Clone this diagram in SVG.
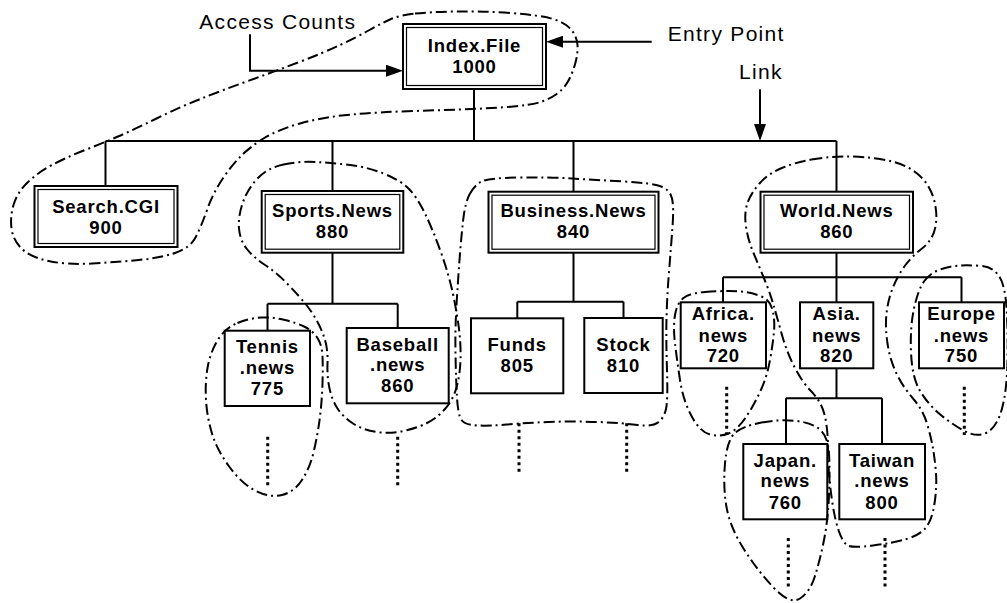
<svg xmlns="http://www.w3.org/2000/svg" width="1007" height="603" viewBox="0 0 1007 603">
<style>
.bg{fill:#fff}
.box{fill:#fff;stroke:#000;stroke-width:2}
.inner{fill:none;stroke:#000;stroke-width:1.2}
.wire{fill:none;stroke:#000;stroke-width:2}
.dots{fill:none;stroke:#000;stroke-width:3;stroke-dasharray:3 3.5}
.enc{fill:none;stroke:#000;stroke-width:2;stroke-dasharray:11 4 2 4}
.lbl{font-family:"Liberation Sans",Arial,sans-serif;font-weight:bold;font-size:18.5px;letter-spacing:0.8px;text-anchor:middle;fill:#000}
.ann{font-family:"Liberation Sans",Arial,sans-serif;font-size:21px;letter-spacing:1.3px;fill:#000}
</style>
<defs>
<marker id="ah" markerWidth="17" markerHeight="12" viewBox="0 0 17 12" refX="0" refY="6" orient="auto" markerUnits="userSpaceOnUse"><path d="M0,0 L17,6 L0,12 Z" fill="#000"/></marker>
</defs>
<rect class="bg" x="0" y="0" width="1007" height="603"/>

<g id="connectors">
<path class="wire" d="M105.5 141 H836.5 M105.5 141 V186 M332.5 141 V191 M573.5 141 V191.7 M836.5 141 V191.7 M474 89 V141"/>
<path class="wire" d="M332.5 252.7 V303.7 M267.5 303.7 H397.7 M267.5 303.7 V330.7 M397.7 303.7 V328"/>
<path class="wire" d="M573.5 252.7 V301.7 M517.3 301.7 H623.5 M517.3 301.7 V318.3 M623.5 301.7 V318"/>
<path class="wire" d="M836.5 252.7 V277.3 M723 277.3 H961.5 M723 277.3 V302.3 M836.5 277.3 V302.3 M961.5 277.3 V302.3"/>
<path class="wire" d="M836.5 368.3 V398.3 M786 398.3 H882 M786 398.3 V444 M882 398.3 V444"/>
<path class="wire" d="M250 34.3 V70.7 H386" marker-end="url(#ah)"/>
<path class="wire" d="M651.7 41.7 H563" marker-end="url(#ah)"/>
<path class="wire" d="M760 89.3 V124" marker-end="url(#ah)"/>
<path class="dots" d="M267.7 436.7 V488.3 M397.7 436.7 V488.3 M519 423.3 V473.3 M626.7 423.3 V473.3 M726.7 386.7 V435 M964.3 386.7 V435 M788.3 538 V588.3 M885 538 V588.3"/>
</g>

<g id="index-file">
<rect class="box" x="403" y="24" width="143" height="65"/>
<rect class="inner" x="406.5" y="27.5" width="136" height="58"/>
<text class="lbl" x="474.5" y="51.7">Index.File</text>
<text class="lbl" x="474.5" y="73.3">1000</text>
</g>
<g id="search-cgi">
<rect class="box" x="34.5" y="186" width="143" height="61"/>
<rect class="inner" x="38" y="189.5" width="136" height="54"/>
<text class="lbl" x="106" y="212.7">Search.CGI</text>
<text class="lbl" x="106" y="234">900</text>
</g>
<g id="sports-news">
<rect class="box" x="261.7" y="191" width="141.6" height="61.7"/>
<rect class="inner" x="265.2" y="194.5" width="134.6" height="54.7"/>
<text class="lbl" x="332.5" y="217.3">Sports.News</text>
<text class="lbl" x="332.5" y="238.3">880</text>
</g>
<g id="business-news">
<rect class="box" x="488.5" y="191.7" width="170" height="61"/>
<rect class="inner" x="492" y="195.2" width="163" height="54"/>
<text class="lbl" x="573.5" y="217.3">Business.News</text>
<text class="lbl" x="573.5" y="238.3">840</text>
</g>
<g id="world-news">
<rect class="box" x="760.5" y="191.7" width="152.5" height="61"/>
<rect class="inner" x="764" y="195.2" width="145.5" height="54"/>
<text class="lbl" x="836.8" y="217.3">World.News</text>
<text class="lbl" x="836.8" y="238.3">860</text>
</g>
<g id="tennis-news">
<rect class="box" x="224.7" y="330.7" width="85.3" height="75.3"/>
<text class="lbl" x="267.4" y="353.3">Tennis</text>
<text class="lbl" x="267.4" y="374">.news</text>
<text class="lbl" x="267.4" y="395">775</text>
</g>
<g id="baseball-news">
<rect class="box" x="346.7" y="328" width="102" height="75.3"/>
<text class="lbl" x="397.7" y="350.7">Baseball</text>
<text class="lbl" x="397.7" y="371">.news</text>
<text class="lbl" x="397.7" y="392.3">860</text>
</g>
<g id="funds">
<rect class="box" x="471" y="318.3" width="92.3" height="75"/>
<text class="lbl" x="517.2" y="350.7">Funds</text>
<text class="lbl" x="517.2" y="372.3">805</text>
</g>
<g id="stock">
<rect class="box" x="584.3" y="318" width="78.4" height="75"/>
<text class="lbl" x="623.5" y="350.7">Stock</text>
<text class="lbl" x="623.5" y="372.3">810</text>
</g>
<g id="africa-news">
<rect class="box" x="680.7" y="302.3" width="85.3" height="66"/>
<text class="lbl" x="723.3" y="320.3">Africa.</text>
<text class="lbl" x="723.3" y="341.7">news</text>
<text class="lbl" x="723.3" y="362">720</text>
</g>
<g id="asia-news">
<rect class="box" x="800" y="302.3" width="73.3" height="66"/>
<text class="lbl" x="836.7" y="320.3">Asia.</text>
<text class="lbl" x="836.7" y="341.7">news</text>
<text class="lbl" x="836.7" y="362">820</text>
</g>
<g id="europe-news">
<rect class="box" x="919" y="302.3" width="85" height="66"/>
<text class="lbl" x="961.5" y="320.3">Europe</text>
<text class="lbl" x="961.5" y="341.7">.news</text>
<text class="lbl" x="961.5" y="362">750</text>
</g>
<g id="japan-news">
<rect class="box" x="743.3" y="444" width="84" height="75.3"/>
<text class="lbl" x="785.3" y="466.7">Japan.</text>
<text class="lbl" x="785.3" y="487">news</text>
<text class="lbl" x="785.3" y="509.3">760</text>
</g>
<g id="taiwan-news">
<rect class="box" x="839.3" y="444" width="85.7" height="75.3"/>
<text class="lbl" x="882" y="466.7">Taiwan</text>
<text class="lbl" x="882" y="487">.news</text>
<text class="lbl" x="882" y="509.3">800</text>
</g>

<g id="annotations">
<text class="ann" x="199.3" y="29.3">Access Counts</text>
<text class="ann" x="667.7" y="40.7">Entry Point</text>
<text class="ann" x="739" y="79">Link</text>
</g>

<g id="groupings">
<path class="enc" d="M415,13.5 Q430,12 455,11.5 Q480,11 510,13 Q540,15 553,19 Q566,23 571.5,30 Q577,37 577.5,45 Q578,53 575.5,62.5 Q573,72 568.5,80.5 Q564,89 556,94.5 Q548,100 539,102.5 Q530,105 513.5,106.5 Q497,108 472,109 Q447,110 413.5,111 Q380,112 351.5,114.5 Q323,117 300,123.5 Q277,130 263.5,138.5 Q250,147 241,156 Q232,165 222.5,179 Q213,193 207,210 Q201,227 195.5,237.5 Q190,248 175,253 Q160,258 138.5,260 Q117,262 92,263.5 Q67,265 48.5,261 Q30,257 21.5,248.5 Q13,240 11.5,228.5 Q10,217 13.5,205 Q17,193 27,183 Q37,173 52,165 Q67,157 85,150 Q103,143 118,136.5 Q133,130 156.5,118.5 Q180,107 201.5,98.5 Q223,90 248,81 Q273,72 298,62.5 Q323,53 340,45 Q357,37 368.5,30.5 Q380,24 390,19.5 Q400,15 415,13.5 Z"/>
<path class="enc" d="M283.5,164.5 Q300,161 316.5,162 Q333,163 350,165 Q367,167 383.5,173.5 Q400,180 408.5,188.5 Q417,197 425,213.5 Q433,230 441,252.5 Q449,275 453,294 Q457,313 459,329 Q461,345 460.5,360 Q460,375 456.5,387.5 Q453,400 445,409 Q437,418 427,423 Q417,428 403.5,431 Q390,434 376.5,432 Q363,430 353,423.5 Q343,417 337.5,408.5 Q332,400 329.5,388.5 Q327,377 327.5,363.5 Q328,350 325,340 Q322,330 317,321 Q312,312 306,304.5 Q300,297 288.5,285 Q277,273 265,265 Q253,257 246.5,248.5 Q240,240 239,228.5 Q238,217 242.5,203.5 Q247,190 257,179 Q267,168 283.5,164.5 Z"/>
<path class="enc" d="M237.5,323 Q250,318 261.5,317.5 Q273,317 285,320 Q297,323 305,327 Q313,331 317.5,338 Q322,345 322.5,356 Q323,367 322.5,383.5 Q322,400 320,416.5 Q318,433 314,450.5 Q310,468 302,480 Q294,492 282,495 Q270,498 256,491 Q242,484 229.5,467 Q217,450 212,433.5 Q207,417 206,400 Q205,383 207.5,368 Q210,353 217.5,340.5 Q225,328 237.5,323 Z"/>
<path class="enc" d="M469.5,194.5 Q474,186 480.5,182 Q487,178 517,177.5 Q547,177 572,178.5 Q597,180 624.5,181.5 Q652,183 661,186.5 Q670,190 672,198.5 Q674,207 672.5,227 Q671,247 669,272 Q667,297 666.5,318.5 Q666,340 667,370 Q668,400 666,409 Q664,418 658,422.5 Q652,427 637.5,425 Q623,423 598,422 Q573,421 548,422 Q523,423 506.5,424.5 Q490,426 477.5,425.5 Q465,425 461.5,420 Q458,415 457,397.5 Q456,380 455.5,355 Q455,330 456.5,305 Q458,280 459.5,260 Q461,240 463,221.5 Q465,203 469.5,194.5 Z"/>
<path class="enc" d="M811.5,159.5 Q826,157 843.5,156.5 Q861,156 882.5,159.5 Q904,163 916.5,173 Q929,183 933.5,198 Q938,213 935.5,226.5 Q933,240 922,248.5 Q911,257 904,267 Q897,277 892.5,288.5 Q888,300 886.5,313.5 Q885,327 887.5,343.5 Q890,360 896.5,373.5 Q903,387 913,398.5 Q923,410 927,423.5 Q931,437 933,448.5 Q935,460 936,473.5 Q937,487 934.5,503.5 Q932,520 926,527.5 Q920,535 906.5,539 Q893,543 873,545.5 Q853,548 848,545.5 Q843,543 839,531.5 Q835,520 832.5,503.5 Q830,487 829,473.5 Q828,460 828,448.5 Q828,437 826.5,425 Q825,413 821,405 Q817,397 810,390 Q803,383 795,368 Q787,353 782,335 Q777,317 773.5,305 Q770,293 764.5,279.5 Q759,266 753.5,253 Q748,240 746,226.5 Q744,213 747.5,203 Q751,193 760,183 Q769,173 783,167.5 Q797,162 811.5,159.5 Z"/>
<path class="enc" d="M705,292 Q720,291 728.5,291 Q737,291 745,292 Q753,293 761.5,296.5 Q770,300 772.5,310 Q775,320 774,331.5 Q773,343 770,360 Q767,377 760,392 Q753,407 745,418.5 Q737,430 728.5,433.5 Q720,437 710,434.5 Q700,432 691.5,416 Q683,400 680,380 Q677,360 675,343.5 Q673,327 675,315 Q677,303 683.5,298 Q690,293 705,292 Z"/>
<path class="enc" d="M761.5,422.5 Q780,419 796.5,421 Q813,423 820.5,430 Q828,437 829,453.5 Q830,470 829,495 Q828,520 824,540 Q820,560 815,576 Q810,592 800,598.5 Q790,605 773.5,587.5 Q757,570 743.5,548.5 Q730,527 726.5,507 Q723,487 725,463.5 Q727,440 735,433 Q743,426 761.5,422.5 Z"/>
<path class="enc" d="M924,281.5 Q930,273 940,269.5 Q950,266 960,265.5 Q970,265 981.5,266 Q993,267 999,276 Q1005,285 1006.5,307.5 Q1008,330 1007.5,360 Q1007,390 1002,408.5 Q997,427 987,432.5 Q977,438 963.5,430.5 Q950,423 938.5,413 Q927,403 919.5,390 Q912,377 911,352 Q910,327 914,308.5 Q918,290 924,281.5 Z"/>
</g>
</svg>
